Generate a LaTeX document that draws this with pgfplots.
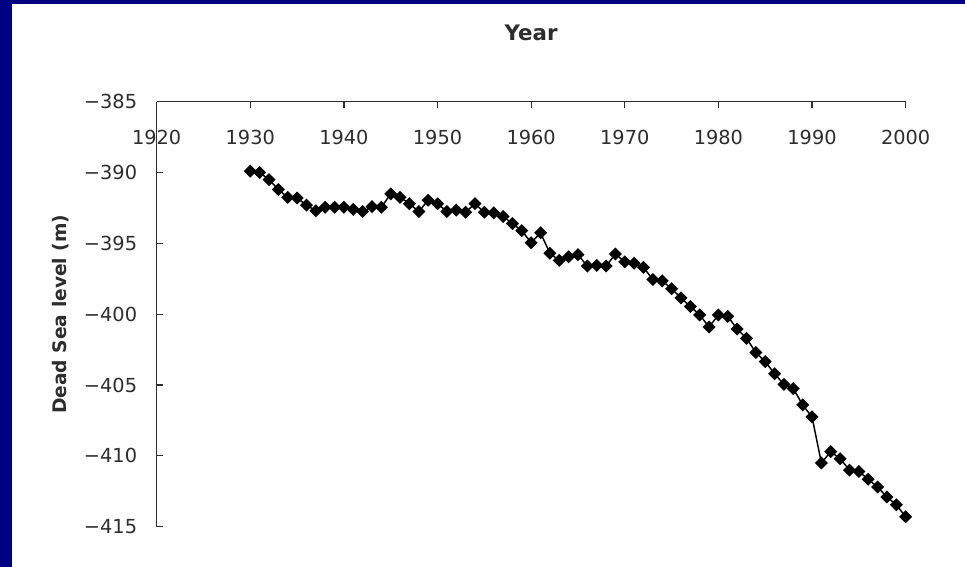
\documentclass[border=0pt]{standalone}
\usepackage{fontspec}
\setmainfont{DejaVu Sans}
\usepackage{pgfplots}
\pgfplotsset{compat=1.18}
\definecolor{navybg}{RGB}{0,0,128}
\definecolor{inkgray}{RGB}{45,45,45}
\begin{document}
\begin{tikzpicture}
\path[use as bounding box] (0,0) rectangle (723.75pt,425.25pt);
\fill[navybg] (0,0) rectangle (723.75pt,425.25pt);
\fill[white] (9pt,0) rectangle (723.75pt,422.25pt);
\begin{axis}[
  scale only axis,
  width=561.75pt, height=318.75pt,
  at={(117.5pt,30.2pt)}, anchor=south west,
  xmin=1920, xmax=2000, ymin=-415, ymax=-385,
  axis x line*=top, axis y line*=left,
  axis line style={inkgray, line width=0.9pt},
  tick align=inside,
  major tick length=5pt,
  tick style={inkgray, line width=0.9pt},
  xtick={1920,1930,...,2000},
  xticklabels={1920,1930,1940,1950,1960,1970,1980,1990,2000},
  ytick={-415,-410,...,-385},
  yticklabels={−415,−410,−405,−400,−395,−390,−385},
  x tick label style={font=\fontsize{14.5}{16}\selectfont, text=inkgray, anchor=center, yshift=-27pt},
  y tick label style={font=\fontsize{14.5}{16}\selectfont, text=inkgray, anchor=east, inner sep=0pt, xshift=-14.5pt},
  xlabel={Year},
  xlabel style={at={(axis description cs:0.5,1.1616)}, anchor=center, font=\bfseries\fontsize{16}{18}\selectfont, text=inkgray},
  ylabel={Dead Sea level (m)},
  ylabel style={at={(axis description cs:-0.1282,0.5)}, anchor=center, font=\bfseries\fontsize{14}{16}\selectfont, text=inkgray},
  clip=false,
]
\addplot[black, line width=1.1pt, mark=square*, mark size=2.9pt,
  mark options={rotate=45, fill=black}] coordinates {
(1930,-389.9) (1931,-390.0) (1932,-390.5) (1933,-391.2) (1934,-391.75)
(1935,-391.8) (1936,-392.3) (1937,-392.7) (1938,-392.45) (1939,-392.45)
(1940,-392.45) (1941,-392.6) (1942,-392.75) (1943,-392.4) (1944,-392.45)
(1945,-391.5) (1946,-391.75) (1947,-392.2) (1948,-392.75) (1949,-391.95)
(1950,-392.2) (1951,-392.75) (1952,-392.65) (1953,-392.8) (1954,-392.2)
(1955,-392.8) (1956,-392.85) (1957,-393.1) (1958,-393.6) (1959,-394.1)
(1960,-394.95) (1961,-394.25) (1962,-395.7) (1963,-396.2) (1964,-395.95)
(1965,-395.8) (1966,-396.6) (1967,-396.55) (1968,-396.6) (1969,-395.75)
(1970,-396.3) (1971,-396.4) (1972,-396.7) (1973,-397.55) (1974,-397.65)
(1975,-398.2) (1976,-398.85) (1977,-399.45) (1978,-400.05) (1979,-400.9)
(1980,-400.05) (1981,-400.15) (1982,-401.05) (1983,-401.7) (1984,-402.7)
(1985,-403.35) (1986,-404.2) (1987,-404.95) (1988,-405.25) (1989,-406.4)
(1990,-407.25) (1991,-410.5) (1992,-409.7) (1993,-410.2) (1994,-411.0)
(1995,-411.1) (1996,-411.65) (1997,-412.2) (1998,-412.9) (1999,-413.45)
(2000,-414.3)
};
\end{axis}
\end{tikzpicture}
\end{document}
